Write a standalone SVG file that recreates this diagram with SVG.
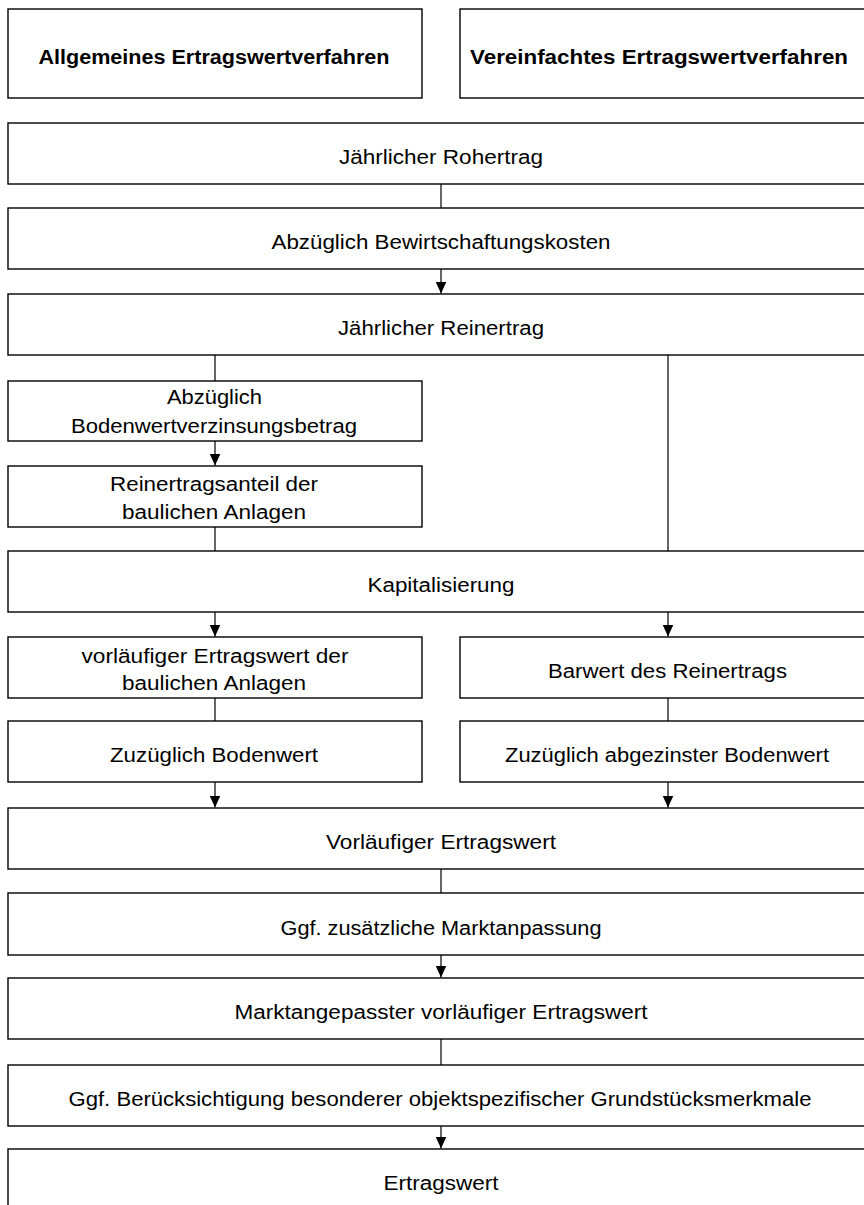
<svg xmlns="http://www.w3.org/2000/svg" width="864" height="1205" viewBox="0 0 864 1205">
<style>
.box{fill:#fff;stroke:#000;stroke-width:1.4}
.t{font-family:"Liberation Sans",Arial,sans-serif;font-size:20px;fill:#000;text-anchor:middle}
.b{font-weight:bold}
.c{stroke:#000;stroke-width:1.2;fill:none}
</style>
<defs>
<marker id="ah" viewBox="0 0 12 11" markerWidth="12" markerHeight="11" refX="12" refY="5.5" orient="auto" markerUnits="userSpaceOnUse">
<path d="M0,0 L12,5.5 L0,11 z" fill="#000"/>
</marker>
</defs>
<rect width="864" height="1205" fill="#fff"/>
<g id="connectors">
<line class="c" x1="441" y1="184" x2="441" y2="208"/>
<line class="c" x1="441" y1="269" x2="441" y2="293.5" marker-end="url(#ah)"/>
<line class="c" x1="215" y1="355" x2="215" y2="381"/>
<line class="c" x1="668" y1="355" x2="668" y2="551"/>
<line class="c" x1="215" y1="441" x2="215" y2="465.5" marker-end="url(#ah)"/>
<line class="c" x1="215" y1="527" x2="215" y2="551"/>
<line class="c" x1="215" y1="612" x2="215" y2="636.5" marker-end="url(#ah)"/>
<line class="c" x1="668" y1="612" x2="668" y2="636.5" marker-end="url(#ah)"/>
<line class="c" x1="215" y1="698" x2="215" y2="721"/>
<line class="c" x1="668" y1="698" x2="668" y2="721"/>
<line class="c" x1="215" y1="782" x2="215" y2="807.5" marker-end="url(#ah)"/>
<line class="c" x1="668" y1="782" x2="668" y2="807.5" marker-end="url(#ah)"/>
<line class="c" x1="441" y1="869" x2="441" y2="893"/>
<line class="c" x1="441" y1="955" x2="441" y2="977.5" marker-end="url(#ah)"/>
<line class="c" x1="441" y1="1039" x2="441" y2="1065"/>
<line class="c" x1="441" y1="1126" x2="441" y2="1148.5" marker-end="url(#ah)"/>
</g>
<g id="n-allgemein">
<rect class="box" x="8" y="9" width="414" height="89"/>
<text class="t b" x="214" y="63.5" textLength="351" lengthAdjust="spacingAndGlyphs">Allgemeines Ertragswertverfahren</text>
</g>
<g id="n-vereinfacht">
<rect class="box" x="460" y="9" width="416" height="89"/>
<text class="t b" x="659" y="63.5" textLength="378" lengthAdjust="spacingAndGlyphs">Vereinfachtes Ertragswertverfahren</text>
</g>
<g id="n-rohertrag">
<rect class="box" x="8" y="123" width="868" height="61"/>
<text class="t" x="441" y="164" textLength="204" lengthAdjust="spacingAndGlyphs">Jährlicher Rohertrag</text>
</g>
<g id="n-bewirtschaftung">
<rect class="box" x="8" y="208" width="868" height="61"/>
<text class="t" x="441" y="249" textLength="339" lengthAdjust="spacingAndGlyphs">Abzüglich Bewirtschaftungskosten</text>
</g>
<g id="n-reinertrag">
<rect class="box" x="8" y="294" width="868" height="61"/>
<text class="t" x="441" y="335" textLength="206" lengthAdjust="spacingAndGlyphs">Jährlicher Reinertrag</text>
</g>
<g id="n-bodenverzinsung">
<rect class="box" x="8" y="381" width="414" height="60"/>
<text class="t" x="214.5" y="404" textLength="95" lengthAdjust="spacingAndGlyphs">Abzüglich</text>
<text class="t" x="214" y="433" textLength="286" lengthAdjust="spacingAndGlyphs">Bodenwertverzinsungsbetrag</text>
</g>
<g id="n-reinertragsanteil">
<rect class="box" x="8" y="466" width="414" height="61"/>
<text class="t" x="214" y="491" textLength="208" lengthAdjust="spacingAndGlyphs">Reinertragsanteil der</text>
<text class="t" x="214" y="519" textLength="184" lengthAdjust="spacingAndGlyphs">baulichen Anlagen</text>
</g>
<g id="n-kapitalisierung">
<rect class="box" x="8" y="551" width="868" height="61"/>
<text class="t" x="441" y="592" textLength="147" lengthAdjust="spacingAndGlyphs">Kapitalisierung</text>
</g>
<g id="n-vorl-bauliche">
<rect class="box" x="8" y="637" width="414" height="61"/>
<text class="t" x="215" y="663" textLength="267" lengthAdjust="spacingAndGlyphs">vorläufiger Ertragswert der</text>
<text class="t" x="214" y="690" textLength="184" lengthAdjust="spacingAndGlyphs">baulichen Anlagen</text>
</g>
<g id="n-barwert">
<rect class="box" x="460" y="637" width="416" height="61"/>
<text class="t" x="667.5" y="678" textLength="239" lengthAdjust="spacingAndGlyphs">Barwert des Reinertrags</text>
</g>
<g id="n-zuz-bodenwert">
<rect class="box" x="8" y="721" width="414" height="61"/>
<text class="t" x="214" y="762" textLength="208" lengthAdjust="spacingAndGlyphs">Zuzüglich Bodenwert</text>
</g>
<g id="n-zuz-abgezinst">
<rect class="box" x="460" y="721" width="416" height="61"/>
<text class="t" x="667" y="762" textLength="324" lengthAdjust="spacingAndGlyphs">Zuzüglich abgezinster Bodenwert</text>
</g>
<g id="n-vorlaeufig">
<rect class="box" x="8" y="808" width="868" height="61"/>
<text class="t" x="441" y="849" textLength="230" lengthAdjust="spacingAndGlyphs">Vorläufiger Ertragswert</text>
</g>
<g id="n-marktanpassung">
<rect class="box" x="8" y="893" width="868" height="62"/>
<text class="t" x="441" y="934.5" textLength="321" lengthAdjust="spacingAndGlyphs">Ggf. zusätzliche Marktanpassung</text>
</g>
<g id="n-marktangepasst">
<rect class="box" x="8" y="978" width="868" height="61"/>
<text class="t" x="441" y="1019" textLength="413" lengthAdjust="spacingAndGlyphs">Marktangepasster vorläufiger Ertragswert</text>
</g>
<g id="n-boG">
<rect class="box" x="8" y="1065" width="868" height="61"/>
<text class="t" x="440" y="1106" textLength="743" lengthAdjust="spacingAndGlyphs">Ggf. Berücksichtigung besonderer objektspezifischer Grundstücksmerkmale</text>
</g>
<g id="n-ertragswert">
<rect class="box" x="8" y="1149" width="868" height="70"/>
<text class="t" x="441" y="1190" textLength="115" lengthAdjust="spacingAndGlyphs">Ertragswert</text>
</g>
</svg>
